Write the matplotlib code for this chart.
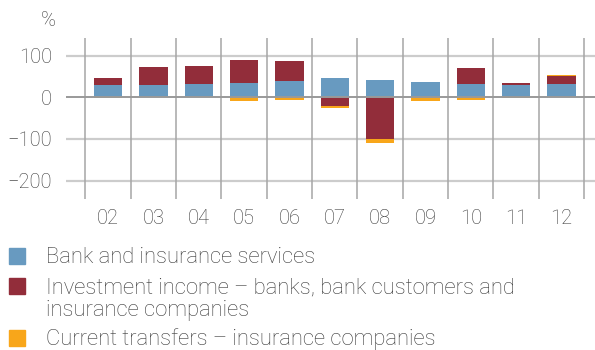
import matplotlib
matplotlib.use("Agg")
import matplotlib.pyplot as plt
import numpy as np
from matplotlib.patches import Rectangle

years = ["02", "03", "04", "05", "06", "07", "08", "09", "10", "11", "12"]
bank_services = [30, 30, 32, 34, 39, 46, 42, 37, 32, 30, 32]
investment_income = [16, 43, 43, 55, 48, -20, -100, 0, 38, 5, 19]
current_transfers = [-3, 0, 0, -9, -6, -5, -9, -9, -6, -2, 2]
yticks = [100, 0, -100, -200]

series = [
    (["Bank and insurance services"], bank_services, "#689ac0"),
    (["Investment income \u2013 banks, bank customers and",
      "insurance companies"], investment_income, "#922d3a"),
    (["Current transfers \u2013 insurance companies"], current_transfers, "#f8a61a"),
]

FONT = "Roboto"
TXT = "#3a3a3a"

W, H = 595, 350
fig = plt.figure(figsize=(W / 100, H / 100), dpi=100)
ax = fig.add_axes([66 / W, (H - 199) / H, (W - 66) / W, (199 - 38) / H])

x = np.arange(len(years))
pos_base = np.zeros(len(years))
neg_base = np.zeros(len(years))
for label, vals, color in series:
    v = np.array(vals, dtype=float)
    bottom = np.where(v >= 0, pos_base, neg_base)
    ax.bar(x, v, width=0.62, bottom=bottom, color=color, linewidth=0, zorder=3)
    pos_base = pos_base + np.where(v > 0, v, 0)
    neg_base = neg_base + np.where(v < 0, v, 0)

ax.set_xlim(-0.93, 10.74)
ax.set_ylim(-244, 142)

# horizontal grid and zero line
for t in yticks:
    if t == 0:
        ax.axhline(t, color="#999999", lw=1.4, zorder=4)
    else:
        ax.axhline(t, color="#cccccc", lw=1.6, zorder=1)
# vertical separators between years
for b in np.arange(-0.5, len(years), 1.0):
    ax.axvline(b, color="#a5a5a5", lw=1.1, zorder=2)

for s in ax.spines.values():
    s.set_visible(False)
ax.set_yticks(yticks)
ax.set_yticklabels([str(t).replace("-", "\u2212") for t in yticks])
ax.set_xticks(x)
ax.set_xticklabels(years)
ax.tick_params(axis="both", length=0, labelsize=14.5, labelcolor=TXT)
ax.tick_params(axis="y", pad=10)
ax.tick_params(axis="x", pad=7)
for lab in ax.get_xticklabels() + ax.get_yticklabels():
    lab.set_fontfamily(FONT)
    lab.set_fontweight("light")

fig.text(48 / W, 1 - 20 / H, "%", ha="center", va="center", fontsize=14.5,
         color=TXT, family=FONT, fontweight="light")

# legend: square swatches with one text line per row
legend_rows = [[263], [293, 316], [345]]
for baselines, (lines, _, color) in zip(legend_rows, series):
    top = baselines[0] - 15
    fig.patches.append(Rectangle((9 / W, 1 - (top + 16) / H), 16 / W, 16 / H,
                                 transform=fig.transFigure, color=color))
    for base, line in zip(baselines, lines):
        fig.text(46 / W, 1 - base / H, line, ha="left", va="baseline",
                 fontsize=15.8, color=TXT, family=FONT, fontweight="light")

fig.savefig("out.png", dpi=100)
